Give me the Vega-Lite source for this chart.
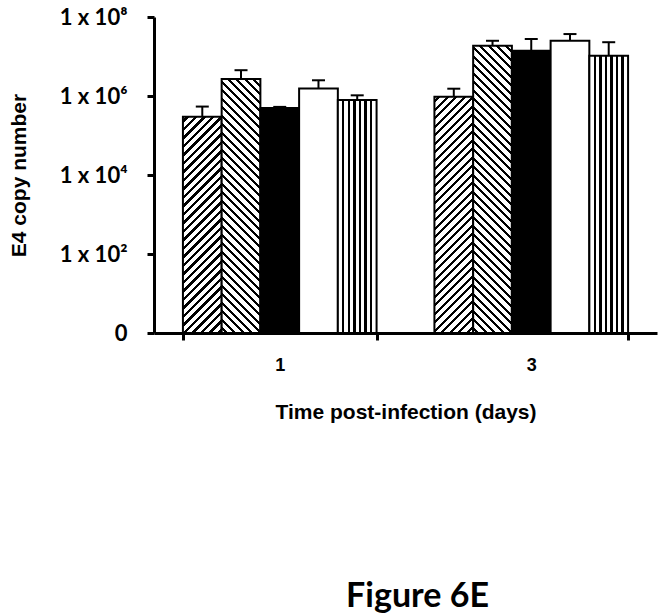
{
  "$schema": "https://vega.github.io/schema/vega-lite/v6.json",
  "width": 503,
  "height": 316,
  "autosize": {"type": "none"},
  "padding": {"left": 154, "top": 17, "right": 7, "bottom": 283},
  "background": "white",
  "params": [
    {"name": "dstripes", "value": [
      {"offset":0,"color":"#fff"},
      {"offset":0.01,"color":"#fff"},{"offset":0.01,"color":"#000"},{"offset":0.0194,"color":"#000"},{"offset":0.0194,"color":"#fff"},
      {"offset":0.035,"color":"#fff"},{"offset":0.035,"color":"#000"},{"offset":0.0444,"color":"#000"},{"offset":0.0444,"color":"#fff"},
      {"offset":0.06,"color":"#fff"},{"offset":0.06,"color":"#000"},{"offset":0.0694,"color":"#000"},{"offset":0.0694,"color":"#fff"},
      {"offset":0.085,"color":"#fff"},{"offset":0.085,"color":"#000"},{"offset":0.0944,"color":"#000"},{"offset":0.0944,"color":"#fff"},
      {"offset":0.11,"color":"#fff"},{"offset":0.11,"color":"#000"},{"offset":0.1194,"color":"#000"},{"offset":0.1194,"color":"#fff"},
      {"offset":0.135,"color":"#fff"},{"offset":0.135,"color":"#000"},{"offset":0.1444,"color":"#000"},{"offset":0.1444,"color":"#fff"},
      {"offset":0.16,"color":"#fff"},{"offset":0.16,"color":"#000"},{"offset":0.1694,"color":"#000"},{"offset":0.1694,"color":"#fff"},
      {"offset":0.185,"color":"#fff"},{"offset":0.185,"color":"#000"},{"offset":0.1944,"color":"#000"},{"offset":0.1944,"color":"#fff"},
      {"offset":0.21,"color":"#fff"},{"offset":0.21,"color":"#000"},{"offset":0.2194,"color":"#000"},{"offset":0.2194,"color":"#fff"},
      {"offset":0.235,"color":"#fff"},{"offset":0.235,"color":"#000"},{"offset":0.2444,"color":"#000"},{"offset":0.2444,"color":"#fff"},
      {"offset":0.26,"color":"#fff"},{"offset":0.26,"color":"#000"},{"offset":0.2694,"color":"#000"},{"offset":0.2694,"color":"#fff"},
      {"offset":0.285,"color":"#fff"},{"offset":0.285,"color":"#000"},{"offset":0.2944,"color":"#000"},{"offset":0.2944,"color":"#fff"},
      {"offset":0.31,"color":"#fff"},{"offset":0.31,"color":"#000"},{"offset":0.3194,"color":"#000"},{"offset":0.3194,"color":"#fff"},
      {"offset":0.335,"color":"#fff"},{"offset":0.335,"color":"#000"},{"offset":0.3444,"color":"#000"},{"offset":0.3444,"color":"#fff"},
      {"offset":0.36,"color":"#fff"},{"offset":0.36,"color":"#000"},{"offset":0.3694,"color":"#000"},{"offset":0.3694,"color":"#fff"},
      {"offset":0.385,"color":"#fff"},{"offset":0.385,"color":"#000"},{"offset":0.3944,"color":"#000"},{"offset":0.3944,"color":"#fff"},
      {"offset":0.41,"color":"#fff"},{"offset":0.41,"color":"#000"},{"offset":0.4194,"color":"#000"},{"offset":0.4194,"color":"#fff"},
      {"offset":0.435,"color":"#fff"},{"offset":0.435,"color":"#000"},{"offset":0.4444,"color":"#000"},{"offset":0.4444,"color":"#fff"},
      {"offset":0.46,"color":"#fff"},{"offset":0.46,"color":"#000"},{"offset":0.4694,"color":"#000"},{"offset":0.4694,"color":"#fff"},
      {"offset":0.485,"color":"#fff"},{"offset":0.485,"color":"#000"},{"offset":0.4944,"color":"#000"},{"offset":0.4944,"color":"#fff"},
      {"offset":0.51,"color":"#fff"},{"offset":0.51,"color":"#000"},{"offset":0.5194,"color":"#000"},{"offset":0.5194,"color":"#fff"},
      {"offset":0.535,"color":"#fff"},{"offset":0.535,"color":"#000"},{"offset":0.5444,"color":"#000"},{"offset":0.5444,"color":"#fff"},
      {"offset":0.56,"color":"#fff"},{"offset":0.56,"color":"#000"},{"offset":0.5694,"color":"#000"},{"offset":0.5694,"color":"#fff"},
      {"offset":0.585,"color":"#fff"},{"offset":0.585,"color":"#000"},{"offset":0.5944,"color":"#000"},{"offset":0.5944,"color":"#fff"},
      {"offset":0.61,"color":"#fff"},{"offset":0.61,"color":"#000"},{"offset":0.6194,"color":"#000"},{"offset":0.6194,"color":"#fff"},
      {"offset":0.635,"color":"#fff"},{"offset":0.635,"color":"#000"},{"offset":0.6444,"color":"#000"},{"offset":0.6444,"color":"#fff"},
      {"offset":0.66,"color":"#fff"},{"offset":0.66,"color":"#000"},{"offset":0.6694,"color":"#000"},{"offset":0.6694,"color":"#fff"},
      {"offset":0.685,"color":"#fff"},{"offset":0.685,"color":"#000"},{"offset":0.6944,"color":"#000"},{"offset":0.6944,"color":"#fff"},
      {"offset":0.71,"color":"#fff"},{"offset":0.71,"color":"#000"},{"offset":0.7194,"color":"#000"},{"offset":0.7194,"color":"#fff"},
      {"offset":0.735,"color":"#fff"},{"offset":0.735,"color":"#000"},{"offset":0.7444,"color":"#000"},{"offset":0.7444,"color":"#fff"},
      {"offset":0.76,"color":"#fff"},{"offset":0.76,"color":"#000"},{"offset":0.7694,"color":"#000"},{"offset":0.7694,"color":"#fff"},
      {"offset":0.785,"color":"#fff"},{"offset":0.785,"color":"#000"},{"offset":0.7944,"color":"#000"},{"offset":0.7944,"color":"#fff"},
      {"offset":0.81,"color":"#fff"},{"offset":0.81,"color":"#000"},{"offset":0.8194,"color":"#000"},{"offset":0.8194,"color":"#fff"},
      {"offset":0.835,"color":"#fff"},{"offset":0.835,"color":"#000"},{"offset":0.8444,"color":"#000"},{"offset":0.8444,"color":"#fff"},
      {"offset":0.86,"color":"#fff"},{"offset":0.86,"color":"#000"},{"offset":0.8694,"color":"#000"},{"offset":0.8694,"color":"#fff"},
      {"offset":0.885,"color":"#fff"},{"offset":0.885,"color":"#000"},{"offset":0.8944,"color":"#000"},{"offset":0.8944,"color":"#fff"},
      {"offset":0.91,"color":"#fff"},{"offset":0.91,"color":"#000"},{"offset":0.9194,"color":"#000"},{"offset":0.9194,"color":"#fff"},
      {"offset":0.935,"color":"#fff"},{"offset":0.935,"color":"#000"},{"offset":0.9444,"color":"#000"},{"offset":0.9444,"color":"#fff"},
      {"offset":0.96,"color":"#fff"},{"offset":0.96,"color":"#000"},{"offset":0.9694,"color":"#000"},{"offset":0.9694,"color":"#fff"},
      {"offset":0.985,"color":"#fff"},{"offset":0.985,"color":"#000"},{"offset":0.9944,"color":"#000"},{"offset":0.9944,"color":"#fff"},
      {"offset":1,"color":"#fff"}
    ]}
  ],
  "title": {"text": "Figure 6E", "orient": "bottom", "anchor": "middle", "dx": 12, "offset": 158, "font": "Lato", "fontSize": 34, "fontWeight": "bold", "color": "black"},
  "data": {"values": [
    {"day": "1", "s": "a", "value": 300000, "upper": 540000},
    {"day": "1", "s": "b", "value": 2700000, "upper": 4500000},
    {"day": "1", "s": "c", "value": 500000, "upper": 530000},
    {"day": "1", "s": "d", "value": 1550000, "upper": 2500000},
    {"day": "1", "s": "e", "value": 790000, "upper": 1040000},
    {"day": "3", "s": "a", "value": 960000, "upper": 1530000},
    {"day": "3", "s": "b", "value": 18800000, "upper": 25000000},
    {"day": "3", "s": "c", "value": 14000000, "upper": 27700000},
    {"day": "3", "s": "d", "value": 25000000, "upper": 37000000},
    {"day": "3", "s": "e", "value": 10500000, "upper": 23000000}
  ]},
  "encoding": {
    "x": {"field": "day", "type": "nominal", "scale": {"paddingInner": 0.23, "paddingOuter": 0.115},
      "axis": {"title": "Time post-infection (days)", "labelAngle": 0, "tickBand": "extent", "domainColor": "black", "domainWidth": 3, "tickColor": "black", "tickWidth": 3, "tickSize": 7, "labelFont": "Liberation Sans", "labelFontSize": 18, "labelFontWeight": "bold", "labelColor": "black", "labelPadding": 16, "titleFont": "Liberation Sans", "titleFontSize": 21, "titleFontWeight": "bold", "titleColor": "black", "titlePadding": 27}},
    "xOffset": {"field": "s", "type": "nominal", "scale": {"domain": ["a", "b", "c", "d", "e"]}}
  },
  "layer": [
    {
      "mark": {"type": "bar", "stroke": "black", "strokeWidth": 2},
      "encoding": {
        "y": {"field": "value", "type": "quantitative", "title": "E4 copy number", "scale": {"type": "log", "domain": [1, 100000000]},
          "axis": {"values": [1, 100, 10000, 1000000, 100000000], "labelExpr": "datum.value === 1 ? '0' : datum.value === 100 ? '1 x 10²' : datum.value === 10000 ? '1 x 10⁴' : datum.value === 1000000 ? '1 x 10⁶' : '1 x 10⁸'", "grid": false, "domainColor": "black", "domainWidth": 3, "tickColor": "black", "tickWidth": 3, "tickSize": 7, "labelFont": "Lato", "labelFontSize": 22, "labelFontWeight": "bold", "labelColor": "black", "labelPadding": 20, "labelOverlap": false, "titleFont": "Liberation Sans", "titleFontSize": 21, "titleFontWeight": "bold", "titleColor": "black", "titlePadding": 30}},
        "y2": {"datum": 1},
        "fill": {
          "condition": [
            {"test": "datum.s === 'a'", "value": {"expr": "{gradient: 'linear', x1: 0, y1: 0, x2: 13168 / (1500 + pow(17.155 * log(datum.value), 2)), y2: 5832.7 * log(datum.value) / (1500 + pow(17.155 * log(datum.value), 2)), stops: dstripes}"}},
            {"test": "datum.s === 'b'", "value": {"expr": "{gradient: 'linear', x1: 0, y1: 1, x2: 13168 / (1500 + pow(17.155 * log(datum.value), 2)), y2: 1 - 5832.7 * log(datum.value) / (1500 + pow(17.155 * log(datum.value), 2)), stops: dstripes}"}},
            {"test": "datum.s === 'c'", "value": "#000"},
            {"test": "datum.s === 'e'", "value": {"gradient": "linear", "x1": 0, "y1": 0, "x2": 1, "y2": 0, "stops": [
              {"offset":0,"color":"#fff"},
              {"offset":0.1145,"color":"#fff"},{"offset":0.1145,"color":"#000"},{"offset":0.1713,"color":"#000"},{"offset":0.1713,"color":"#fff"},
              {"offset":0.2573,"color":"#fff"},{"offset":0.2573,"color":"#000"},{"offset":0.3141,"color":"#000"},{"offset":0.3141,"color":"#fff"},
              {"offset":0.4002,"color":"#fff"},{"offset":0.4002,"color":"#000"},{"offset":0.457,"color":"#000"},{"offset":0.457,"color":"#fff"},
              {"offset":0.543,"color":"#fff"},{"offset":0.543,"color":"#000"},{"offset":0.5998,"color":"#000"},{"offset":0.5998,"color":"#fff"},
              {"offset":0.6859,"color":"#fff"},{"offset":0.6859,"color":"#000"},{"offset":0.7427,"color":"#000"},{"offset":0.7427,"color":"#fff"},
              {"offset":0.8287,"color":"#fff"},{"offset":0.8287,"color":"#000"},{"offset":0.8855,"color":"#000"},{"offset":0.8855,"color":"#fff"},
              {"offset":1,"color":"#fff"}
            ]}}
          ],
          "value": "#fff"
        }
      }
    },
    {
      "mark": {"type": "rule", "strokeWidth": 2, "color": "black"},
      "encoding": {
        "y": {"field": "value", "type": "quantitative", "title": "E4 copy number"},
        "y2": {"field": "upper"}
      }
    },
    {
      "mark": {"type": "tick", "size": 13, "thickness": 2, "color": "black", "opacity": 1, "orient": "horizontal"},
      "encoding": {
        "y": {"field": "upper", "type": "quantitative", "title": "E4 copy number"}
      }
    }
  ],
  "config": {"view": {"stroke": null}, "axis": {"grid": false}}
}
